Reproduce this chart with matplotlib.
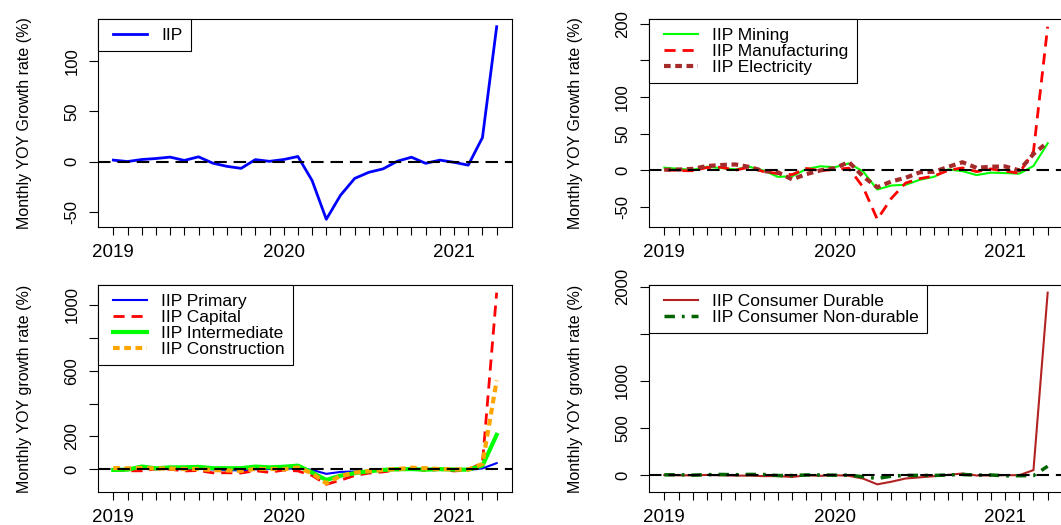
import matplotlib
matplotlib.use("Agg")
import matplotlib.pyplot as plt
from matplotlib.lines import Line2D
from matplotlib.legend_handler import HandlerLine2D
import numpy as np
import pandas as pd

plt.rcParams["font.family"] = ["Liberation Sans", "DejaVu Sans"]

# monthly YOY growth (%), Jan 2019 .. Apr 2021
months = pd.date_range("2019-01-01", "2021-04-01", freq="MS")

iip = [1.6, 0.2, 2.2, 3.2, 4.6, 1.3, 4.9, -1.4, -4.6, -6.6, 2.1, 0.4, 2.2, 5.2,
       -18.7, -57.3, -33.4, -16.6, -10.5, -7.1, 0.5, 4.5, -1.6, 1.6, -0.6, -3.4,
       24.1, 134.4]

mining = [3.8, 2.2, 0.8, 5.1, 3.2, 1.5, 4.9, -0.1, -8.7, -8.0, 1.9, 5.7, 4.4, 9.6,
          -1.3, -26.0, -20.5, -19.5, -12.7, -8.7, 1.4, -1.0, -6.3, -3.0, -3.6, -4.4,
          6.1, 36.9]
manufacturing = [1.3, -0.3, -0.4, 4.0, 4.4, 0.3, 4.8, -1.7, -4.3, -5.7, 2.7, -0.3,
                 1.5, 3.1, -22.8, -66.6, -37.8, -17.1, -11.1, -7.6, 0.2, 3.5, -1.6,
                 2.1, -0.9, -3.7, 25.8, 196.0]
electricity = [0.9, 1.2, 2.2, 6.0, 7.4, 8.2, 4.8, -0.9, -2.6, -12.2, -5.0, 0.1, 3.1,
               11.5, -8.2, -22.9, -14.9, -10.0, -2.5, -1.8, 4.9, 11.2, 3.5, 5.1, 5.5,
               0.1, 22.5, 38.5]

primary = [1.1, 1.3, 2.5, 2.3, 2.5, 0.5, 4.6, 0.1, -5.1, -6.0, 0.3, 2.2, 1.9, 8.1,
           -3.1, -27.2, -15.4, -12.9, -8.9, -6.0, 2.8, 3.0, -2.3, -0.4, -1.7, -3.0,
           5.8, 38.0]
capital = [-3.2, -8.8, -8.7, 2.5, 0.8, -9.7, -7.1, -21.0, -20.7, -21.9, -8.3, -18.0,
           -4.3, -9.7, -37.1, -91.0, -65.9, -37.4, -22.8, -15.5, -3.3, 3.3, -7.1,
           -1.1, -9.6, -4.2, 41.9, 1075.0]
intermediate = [-3.5, -1.8, 17.1, 6.3, 12.4, 12.4, 15.3, 7.0, 7.0, 7.0, 17.0, 12.4,
                15.8, 22.8, -18.5, -64.4, -38.4, -22.9, -11.4, -3.2, 0.9, 1.9, -1.8,
                1.5, -1.1, -1.8, 23.0, 210.0]
construction = [7.9, 6.4, 8.2, 5.5, 5.0, 1.8, 2.5, -4.5, -6.4, -9.3, 2.3, 2.7, 0.6,
                10.9, -24.1, -85.0, -40.0, -20.0, -10.0, -3.0, 2.0, 10.0, 7.0, 2.0,
                0.0, -1.0, 33.0, 541.0]

durable = [1.8, -1.2, -1.9, 2.6, -1.1, -4.9, -4.6, -9.9, -9.2, -18.9, -1.5, -6.7,
           -0.2, -6.4, -36.2, -97.0, -69.0, -35.0, -23.0, -10.5, 3.5, 17.6, -3.3,
           -2.3, 0.2, -0.3, 54.0, 1935.0]
nondurable = [3.8, 4.8, 0.3, 5.2, 7.8, 4.9, 8.2, 7.3, -3.9, -3.7, 2.2, 2.4, -0.2,
              -0.6, -16.0, -35.0, -10.0, -2.0, -2.0, -3.0, 2.0, 7.5, 0.7, 2.2, -6.8,
              -5.5, -5.0, 95.0]

W, H = 1061, 525
x = np.arange(len(months))
xlabels = [str(m.year) if m.month == 1 else "" for m in months]

DASH = (4, 2.5)
DOT = (1.6, 1.1)


def add_axes(fig, left, top, right, bottom):
    return fig.add_axes([left / W, 1 - bottom / H, (right - left) / W, (bottom - top) / H])


def style(ax, yticks, ylabels, ylabel):
    ax.margins(x=0.04, y=0.04)
    ax.axhline(0, color="black", lw=1.5, dashes=(6, 3.3), zorder=5)
    ax.set_xticks(x, xlabels)
    ax.set_yticks(yticks, ylabels, rotation=90, va="center")
    ax.tick_params(axis="x", length=6, width=0.8, pad=6, labelsize=13.5)
    ax.tick_params(axis="y", length=6.5, width=0.8, pad=7, labelsize=12)
    for s in ax.spines.values():
        s.set_linewidth(0.8)
    ax.set_ylabel(ylabel, fontsize=11.5)
    ax.yaxis.set_label_coords(-0.160, 0.5)
    leg = ax.legend(loc="upper left", borderaxespad=0, fancybox=False, framealpha=1,
                    edgecolor="black", fontsize=12.5, handlelength=2.32,
                    handletextpad=0.83, borderpad=0.49, labelspacing=0.05,
                    handler_map={Line2D: HandlerLine2D(xpad=0.385)})
    leg.get_frame().set_linewidth(0.8)
    leg.set_zorder(6)


fig = plt.figure(figsize=(W / 100, H / 100), dpi=100)

# top-left: headline IIP
ax = add_axes(fig, 98, 19, 512, 227)
ax.plot(x, iip, color="blue", lw=2, label="IIP")
style(ax, [-50, 0, 50, 100], ["-50", "0", "50", "100"], "Monthly YOY Growth rate (%)")

# top-right: sectoral
ax = add_axes(fig, 649, 19, 1063, 227)
ax.plot(x, mining, color="#00ff00", lw=1.5, label="IIP Mining")
ax.plot(x, manufacturing, color="red", lw=2, dashes=DASH, label="IIP Manufacturing")
ax.plot(x, electricity, color="brown", lw=3, dashes=DOT, label="IIP Electricity")
style(ax, [-50, 0, 50, 100, 150, 200], ["-50", "0", "50", "100", "", "200"],
      "Monthly YOY Growth rate (%)")

# bottom-left: use-based
ax = add_axes(fig, 98, 285, 512, 492)
ax.plot(x, primary, color="blue", lw=1.5, label="IIP Primary")
ax.plot(x, capital, color="red", lw=2, dashes=DASH, label="IIP Capital")
ax.plot(x, intermediate, color="#00ff00", lw=3, label="IIP Intermediate")
ax.plot(x, construction, color="orange", lw=3, dashes=DOT, label="IIP Construction")
style(ax, [0, 200, 400, 600, 800, 1000], ["0", "200", "", "600", "", "1000"],
      "Monthly YOY growth rate (%)")

# bottom-right: consumer goods
ax = add_axes(fig, 649, 285, 1063, 492)
ax.plot(x, durable, color="firebrick", lw=1.5, label="IIP Consumer Durable")
ax.plot(x, nondurable, color="darkgreen", lw=2.5, dashes=(3, 2, 0.8, 2),
        label="IIP Consumer Non-durable")
style(ax, [0, 500, 1000, 1500, 2000], ["0", "500", "1000", "", "2000"],
      "Monthly YOY growth rate (%)")

fig.savefig("out.png", dpi=100)
